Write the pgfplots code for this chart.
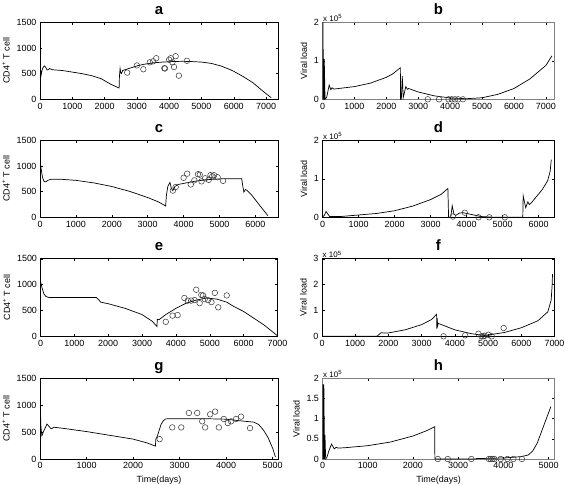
\documentclass[border=0pt]{standalone}
\usepackage{fontspec}
\setmainfont{Liberation Sans}
\usepackage{pgfplots}
\pgfplotsset{compat=1.18}
\pgfplotsset{
  panel/.style={
    scale only axis,
    anchor=south west,
    xmin=0, ymin=0,
    axis line style={black, line width=0.5bp},
    tick align=inside,
    major tick length=2.5bp,
    tick style={black, line width=0.4bp},
    tick label style={font=\fontsize{9}{10}\selectfont},
    label style={font=\fontsize{9}{10}\selectfont},
    /pgf/number format/assume math mode=true,
    /pgf/number format/1000 sep={},
    every axis title shift=0pt,
    title style={font=\fontsize{15}{15}\selectfont\bfseries, at={(0.5,1)}, anchor=base, yshift=8bp},
  },
  cd4/.style={panel, ymax=1500, ytick={0,500,1000,1500}, ylabel={CD4\textsuperscript{+} T cell}},
  vir/.style={panel, ylabel={Viral load}, scaled y ticks=base 10:-5,
    ytick scale label code/.code={x 10\textsuperscript{5}},
    every y tick scale label/.style={at={(rel axis cs:0,1)}, anchor=south west, inner sep=0.5bp, font=\fontsize{8}{9}\selectfont}},
  curve/.style={black, line width=0.7bp, no marks},
  obs/.style={only marks, mark=o, mark size=2.8bp, black!80, mark options={line width=0.5bp}},
}
\begin{document}
\begin{tikzpicture}
\useasboundingbox (0,0) rectangle (564bp,-485bp);
% ---------- a ----------
\begin{axis}[cd4, at={(40bp,-99.3bp)}, width=238bp, height=77bp, xmax=7370, xtick={0,1000,...,7000}, title={a}]
\addplot[curve] coordinates {(0,1130) (8,1000) (15,700) (25,430) (45,520) (80,600) (130,650) (180,620) (220,570) (260,580) (300,600) (350,585) (400,575) (700,560) (1000,530) (1300,500) (1600,460) (1900,400) (2200,290) (2450,220) (2460,450) (2480,600) (2500,520) (2520,500) (2560,560) (2600,570) (2800,610) (3000,650) (3200,680) (3500,710) (3800,725) (4100,735) (4400,740) (4700,735) (5000,725) (5300,700) (5600,650) (5900,575) (6000,545) (6300,440) (6600,320) (6900,160) (7160,30)};
\addplot[obs] coordinates {(2700,520) (3000,660) (3200,585) (3400,720) (3500,740) (3600,800) (3850,605) (3870,600) (4000,770) (4050,800) (4100,720) (4150,630) (4200,840) (4300,460) (4550,750)};
\end{axis}
% ---------- b ----------
\begin{axis}[vir, at={(322.5bp,-99.3bp)}, width=232bp, height=77bp, xmax=7270, ymax=200000, ytick={0,100000,200000}, xtick={0,1000,...,7000}, title={b}, axis line style={gray, line width=1bp}]
\addplot[curve] coordinates {(0,0) (5,200000) (15,200000) (30,0) (45,0) (55,105000) (80,0) (130,5000) (210,37000) (260,25000) (300,30000) (350,27000) (400,27000) (1000,33000) (1500,42000) (2000,57000) (2200,66000) (2440,82000) (2445,0) (2470,0) (2500,60000) (2530,5000) (2560,15000) (2610,33000) (2660,26000) (2700,28000) (3000,19000) (3500,9000) (4000,3500) (4500,1500) (5000,4000) (5500,13000) (6000,28000) (6500,53000) (7000,88000) (7190,113000)};
\addplot[obs] coordinates {(3300,0) (3650,0) (3950,0) (4050,0) (4150,0) (4250,0) (4400,0)};
\end{axis}
% ---------- c ----------
\begin{axis}[cd4, at={(40bp,-217.3bp)}, width=238bp, height=77bp, xmax=6630, xtick={0,1000,...,6000}, title={c}]
\addplot[curve] coordinates {(0,1130) (30,950) (70,780) (110,700) (160,690) (220,720) (300,740) (600,740) (1000,720) (1500,670) (2000,600) (2500,505) (3000,385) (3300,300) (3500,220) (3520,420) (3560,600) (3620,680) (3660,560) (3700,520) (3760,600) (3850,640) (4000,660) (4300,700) (4600,730) (5000,748) (5300,750) (5620,750) (5650,600) (5680,490) (5720,540) (5760,530) (5900,430) (6100,250) (6350,30)};
\addplot[obs] coordinates {(3700,520) (3780,590) (4000,770) (4100,850) (4200,640) (4300,720) (4400,840) (4450,830) (4500,700) (4600,760) (4700,730) (4750,820) (4800,800) (4850,820) (4950,780) (5100,710)};
\end{axis}
% ---------- d ----------
\begin{axis}[vir, at={(322.5bp,-217.3bp)}, width=232bp, height=77bp, xmax=6440, ymax=200000, ytick={0,100000,200000}, xtick={0,1000,...,6000}, title={d}]
\addplot[curve] coordinates {(0,0) (50,5000) (100,15000) (150,8000) (200,2000) (500,2000) (1000,6000) (1500,10000) (2000,17000) (2500,29000) (3000,46000) (3300,60000) (3480,75000) (3500,0) (3560,0) (3600,30000) (3650,8000) (3700,5000) (3800,11000) (3900,12000) (4100,8000) (4400,2000) (4700,500) (5560,0) (5570,56000) (5640,25000) (5700,40000) (5740,33000) (5800,38000) (5950,55000) (6100,72000) (6250,95000) (6320,120000) (6350,150000)};
\addplot[obs] coordinates {(3620,2000) (3950,12000) (4330,0) (4630,0) (5060,0)};
\end{axis}
% ---------- e ----------
\begin{axis}[cd4, at={(40.5bp,-336.3bp)}, width=237bp, height=77.6bp, xmax=7000, xtick={0,1000,...,7000}, title={e}]
\addplot[curve] coordinates {(0,1060) (40,950) (100,820) (160,770) (250,750) (1650,750) (1700,720) (1780,660) (1850,650) (2000,630) (2500,540) (3000,420) (3300,290) (3440,190) (3450,330) (3500,320) (3700,420) (4000,540) (4300,640) (4600,700) (4900,740) (5200,720) (5500,660) (5700,580) (6000,480) (6300,350) (6600,220) (7000,10)};
\addplot[obs] coordinates {(3700,280) (3900,400) (4050,410) (4250,740) (4350,690) (4450,690) (4550,700) (4600,900) (4700,640) (4750,800) (4800,790) (4850,720) (4950,700) (5050,660) (5150,840) (5250,560) (5500,790)};
\end{axis}
% ---------- f ----------
\begin{axis}[vir, at={(322bp,-336.3bp)}, width=232.5bp, height=77.6bp, xmax=7000, ymax=300000, ytick={0,100000,200000,300000}, xtick={0,1000,...,7000}, title={f}]
\addplot[curve] coordinates {(0,0) (1650,0) (1700,5000) (1780,14000) (1850,13000) (2000,13000) (2500,25000) (3000,45000) (3300,65000) (3450,85000) (3455,30000) (3470,70000) (3480,40000) (3500,50000) (4000,25000) (4500,10000) (4900,3000) (5000,5000) (5500,15000) (6000,33000) (6500,60000) (6800,95000) (6900,140000) (6930,200000) (6940,240000)};
\addplot[obs] coordinates {(3660,0) (4310,4000) (4710,10000) (4800,0) (4850,0) (4900,2000) (5010,6000) (5110,0) (5470,32000)};
\end{axis}
% ---------- g ----------
\begin{axis}[cd4, at={(40bp,-459bp)}, width=238bp, height=80.7bp, xmax=5115, xtick={0,1000,...,5000}, title={g}, xlabel={Time(days)}]
\addplot[curve] coordinates {(0,1130) (10,900) (20,600) (40,430) (80,520) (150,650) (200,600) (240,560) (300,590) (500,570) (1000,510) (1500,440) (2000,370) (2300,300) (2480,240) (2490,370) (2520,420) (2560,530) (2600,640) (2650,710) (2700,745) (2800,750) (3500,750) (4000,740) (4300,710) (4600,685) (4700,640) (4800,540) (4900,400) (5000,200) (5060,40)};
\addplot[obs] coordinates {(2571,369) (2843,587) (3036,587) (3200,856) (3379,856) (3486,700) (3550,587) (3657,831) (3764,881) (3843,587) (3950,744) (4036,669) (4107,700) (4214,744) (4321,787) (4514,575)};
\end{axis}
% ---------- h ----------
\begin{axis}[vir, at={(322.5bp,-459bp)}, width=232bp, height=80.7bp, xmax=5130, ymax=200000, ytick={0,50000,100000,150000,200000}, xtick={0,1000,...,5000}, title={h}, xlabel={Time(days)}, axis line style={gray, line width=1bp}]
\addplot[curve] coordinates {(0,0) (10,185000) (20,0) (30,185000) (45,0) (55,60000) (70,0) (100,5000) (140,20000) (200,37000) (260,25000) (300,29000) (350,27000) (500,28000) (1000,33000) (1500,42000) (2000,57000) (2300,70000) (2480,80000) (2485,0) (3400,0) (3400,1000) (4000,2500) (4400,6000) (4550,10000) (4650,20000) (4750,40000) (4850,70000) (4950,100000) (5050,130000)};
\addplot[obs] coordinates {(2550,0) (2770,0) (3290,0) (3680,0) (3720,0) (3760,0) (3800,0) (3940,0) (4090,0) (4220,0) (4410,0)};
\end{axis}
\end{tikzpicture}
\end{document}
